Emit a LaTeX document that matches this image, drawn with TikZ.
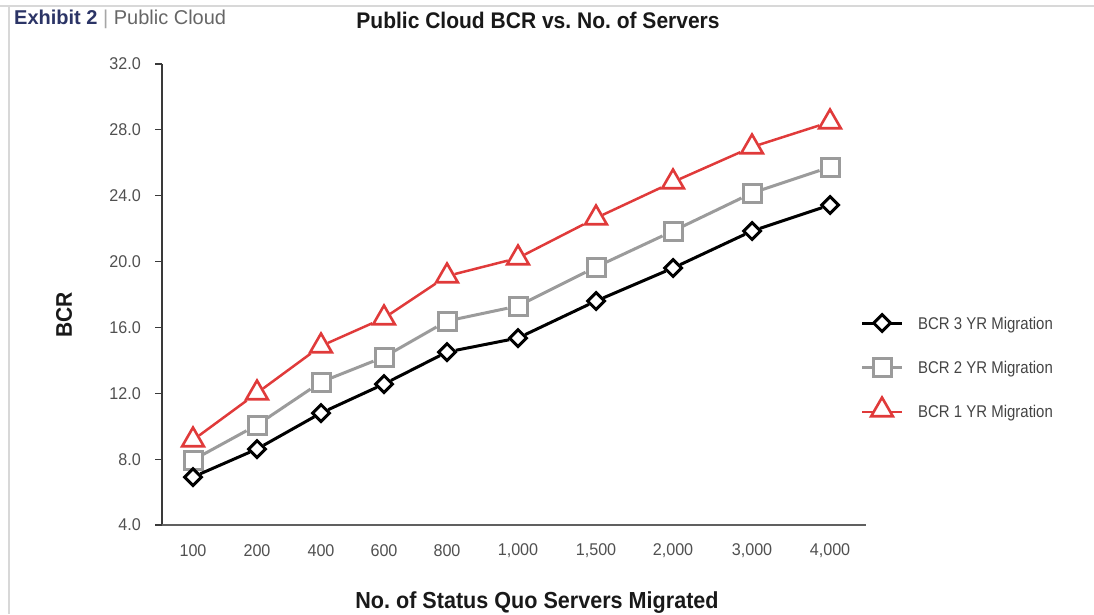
\documentclass[tikz,border=0pt]{standalone}
\usepackage{fontspec}
\setmainfont{Liberation Sans}
\newfontfamily\tickfont{Liberation Sans}[FakeStretch=0.95]
\newfontfamily\legfont{Liberation Sans}[FakeStretch=0.88]
\newfontfamily\headfont{Liberation Sans}[FakeStretch=0.93]
\usetikzlibrary{shapes.geometric}
\frenchspacing

\definecolor{navy}{HTML}{2B3466}
\definecolor{chartred}{HTML}{E03A3A}
\definecolor{chartgray}{HTML}{9B9B9B}
\definecolor{ticktext}{HTML}{505050}
\definecolor{legtext}{HTML}{444444}
\definecolor{framegray}{HTML}{D8D8D8}
\definecolor{axisdark}{HTML}{3A3A3A}
\definecolor{axisgray}{HTML}{606060}

\begin{document}
\begin{tikzpicture}[x=1pt,y=-1pt,
  threeyr/.style={diamond, aspect=1, draw=black, fill=white, line width=3pt,
    inner sep=0pt, minimum width=18pt, minimum height=18pt},
  twoyr/.style={rectangle, draw=chartgray, fill=white, line width=3pt,
    inner sep=0pt, minimum size=18pt},
  oneyr/.style={regular polygon, regular polygon sides=3, draw=chartred, fill=white,
    line width=2.6pt, inner sep=0pt, minimum size=25pt},
  threeline/.style={black, line width=3pt},
  twoline/.style={chartgray, line width=3pt},
  oneline/.style={chartred, line width=2.5pt},
  ticklabel/.style={font=\tickfont\fontsize{17}{17}\selectfont, text=ticktext, inner sep=0pt},
  legendlabel/.style={font=\legfont\fontsize{17}{17}\selectfont, text=legtext, inner sep=0pt, anchor=base west},
  axistitle/.style={font=\headfont\bfseries\fontsize{22.6}{22.6}\selectfont, text=black!90, inner sep=0pt}
]
\useasboundingbox (0,0) rectangle (1094,614);

% frame lines
\coordinate (frTL) at (0,6);
\coordinate (frTR) at (1094,6);
\coordinate (frL1) at (8.5,6);
\coordinate (frL2) at (8.5,614);
\draw[framegray, line width=1.5pt] (frTL) -- (frTR);
\draw[framegray, line width=2pt] (frL1) -- (frL2);

% heading
\node[anchor=base west, inner sep=0pt, font=\fontsize{20}{20}\selectfont] (exhibit) at (14,24)
  {\textcolor{navy}{\bfseries Exhibit 2} \textcolor{black!35}{|} \textcolor{black!60}{Public Cloud}};
\node[axistitle, anchor=base] (title) at (538,28) {Public Cloud BCR vs. No. of Servers};

% axes
\coordinate (ytop) at (162,64);
\coordinate (origin) at (162,525);
\coordinate (xend) at (866,525);
\draw[axisdark, line width=1.5pt] (ytop) -- (origin);
\draw[axisgray, line width=2pt] (origin) -- (xend);

% y ticks and labels
\foreach \k/\lab in {0/4.0,1/8.0,2/12.0,3/16.0,4/20.0,5/24.0,6/28.0,7/32.0}{
  \coordinate (yt\k) at (162,{525-\k*65.857});
  \coordinate (ys\k) at (155,{525-\k*65.857});
  \draw[axisdark, line width=1.2pt] (ys\k) -- (yt\k);
  \node[ticklabel, anchor=east] (yl\k) at (141,{525-\k*65.857}) {\lab};
}

% x labels
\foreach \x/\lab [count=\i] in {193/100,257/200,321/400,384/600,447/800,518/{1,000},596/{1,500},673/{2,000},752/{3,000},830/{4,000}}{
  \node[ticklabel] (xl\i) at (\x,551) {\lab};
}

% axis titles
\node[axistitle, rotate=90] (ytitle) at (64,315) {BCR};
\node[axistitle, anchor=base, font=\headfont\bfseries\fontsize{23.2}{23.2}\selectfont] (xtitle) at (537,608) {No. of Status Quo Servers Migrated};

% BCR 1 YR series
\foreach \x/\y [count=\i] in {193/440,257/393,321/346,384/318,447/276,518/258,596/218,673/182,752/147,830/122}{
  \node[oneyr] (r\i) at (\x,\y) {};
}
\foreach \i [evaluate=\i as \j using int(\i+1)] in {1,...,9}{
  \draw[oneline] (r\i) -- (r\j);
}

% BCR 2 YR series
\foreach \x/\y [count=\i] in {193/460,257/425,321/382,384/357,447/321,518/306,596/267,673/231,752/193,830/167}{
  \node[twoyr] (g\i) at (\x,\y) {};
}
\foreach \i [evaluate=\i as \j using int(\i+1)] in {1,...,9}{
  \draw[twoline] (g\i) -- (g\j);
}

% BCR 3 YR series
\foreach \x/\y [count=\i] in {193/477,257/449,321/413,384/384,447/352,518/338,596/301,673/268,752/231,830/205}{
  \node[threeyr] (b\i) at (\x,\y) {};
}
\foreach \i [evaluate=\i as \j using int(\i+1)] in {1,...,9}{
  \draw[threeline] (b\i) -- (b\j);
}

% legend
\coordinate (lb1) at (862,323); \coordinate (lb2) at (902,323);
\coordinate (lg1) at (862,367); \coordinate (lg2) at (902,367);
\coordinate (lr1) at (862,412); \coordinate (lr2) at (902,412);
\draw[threeline] (lb1) -- (lb2);
\node[threeyr] (lbm) at (882,323) {};
\draw[twoline] (lg1) -- (lg2);
\node[twoyr] (lgm) at (882,367) {};
\draw[oneline] (lr1) -- (lr2);
\node[oneyr] (lrm) at (882,410) {};
\node[legendlabel] (lbt) at (918,329) {BCR 3 YR Migration};
\node[legendlabel] (lgt) at (918,373.5) {BCR 2 YR Migration};
\node[legendlabel] (lrt) at (918,417.5) {BCR 1 YR Migration};
\end{tikzpicture}
\end{document}
